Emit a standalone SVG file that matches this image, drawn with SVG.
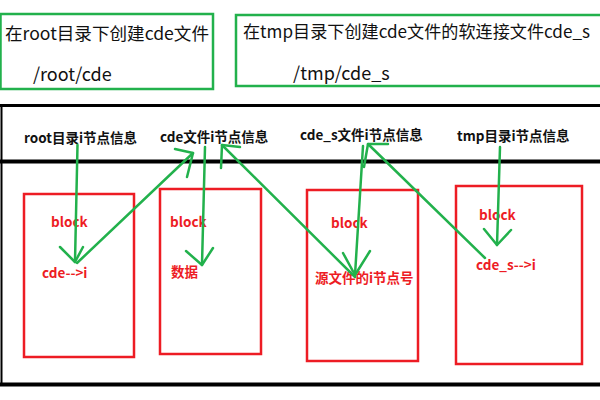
<svg xmlns="http://www.w3.org/2000/svg" width="600" height="400" viewBox="0 0 600 400">
<style>
  .gbox { fill: none; stroke: #22b14c; stroke-width: 2.5; }
  .rbox { fill: none; stroke: #ed1c24; stroke-width: 2.5; }
  .frame { stroke: #000; fill: none; }
  .top { font-family: "Noto Sans CJK SC", "Liberation Sans", sans-serif; font-size: 17px; fill: #111; }
  .path { font-size: 18px; }
  .hdr { font-family: "Noto Sans CJK SC", "Liberation Sans", sans-serif; font-size: 13.5px; font-weight: bold; fill: #111; }
  .red { font-family: "Noto Sans CJK SC", "Liberation Sans", sans-serif; font-size: 13.5px; font-weight: bold; fill: #ed1c24; }
  .arr { fill: none; stroke: #22b14c; stroke-width: 2.5; stroke-linecap: round; stroke-linejoin: round; }
</style>
<rect width="600" height="400" fill="#fff"/>

<g id="note-root">
  <rect class="gbox" x="0.5" y="14" width="212.5" height="75"/>
  <text class="top" x="5" y="40" textLength="204" lengthAdjust="spacingAndGlyphs">在root目录下创建cde文件</text>
  <text class="top path" x="33" y="81">/root/cde</text>
</g>
<g id="note-tmp">
  <rect class="gbox" x="236" y="15" width="370" height="71"/>
  <text class="top" x="243" y="38" textLength="347" lengthAdjust="spacingAndGlyphs">在tmp目录下创建cde文件的软连接文件cde_s</text>
  <text class="top path" x="293" y="80">/tmp/cde_s</text>
</g>

<g id="frame">
  <line class="frame" x1="0" y1="105.5" x2="600" y2="105.5" stroke-width="3"/>
  <line class="frame" x1="1.5" y1="104" x2="1.5" y2="385" stroke-width="2"/>
  <line class="frame" x1="0" y1="161.5" x2="600" y2="161.5" stroke-width="4"/>
  <line class="frame" x1="0" y1="384.5" x2="600" y2="384.5" stroke-width="4"/>
</g>

<g id="hdr-root"><text class="hdr" x="24" y="143">root目录i节点信息</text></g>
<g id="hdr-cde"><text class="hdr" x="160" y="142">cde文件i节点信息</text></g>
<g id="hdr-cde_s"><text class="hdr" x="300" y="140">cde_s文件i节点信息</text></g>
<g id="hdr-tmp"><text class="hdr" x="457" y="141">tmp目录i节点信息</text></g>

<g id="block-root">
  <rect class="rbox" x="24" y="194" width="110" height="163"/>
  <text class="red" x="51" y="227">block</text>
  <text class="red" x="42" y="278">cde--&gt;i</text>
</g>
<g id="block-cde">
  <rect class="rbox" x="160" y="189" width="101" height="165"/>
  <text class="red" x="170" y="227">block</text>
  <text class="red" x="171" y="277">数据</text>
</g>
<g id="block-cde_s">
  <rect class="rbox" x="307" y="190" width="111" height="171"/>
  <text class="red" x="331" y="228">block</text>
  <text class="red" x="315" y="283">源文件的i节点号</text>
</g>
<g id="block-tmp">
  <rect class="rbox" x="456" y="186" width="126" height="178"/>
  <text class="red" x="479" y="220">block</text>
  <text class="red" x="476" y="270">cde_s--&gt;i</text>
</g>

<g id="connectors">
  <path class="arr" d="M77.5 145 L75 262"/>
  <path class="arr" d="M60 247 L75 262 L83 247"/>
  <path class="arr" d="M77 263 L193 153"/>
  <path class="arr" d="M175 149 L193 153 L187 177"/>
  <path class="arr" d="M205 147 L202 265"/>
  <path class="arr" d="M186 251 L202 265 L213 248"/>
  <path class="arr" d="M355 277 L222 145"/>
  <path class="arr" d="M240 147 L222 145 L221 168"/>
  <path class="arr" d="M363 146 L355 275"/>
  <path class="arr" d="M343 253 L355 275 L370 251"/>
  <path class="arr" d="M485 258 L368 144"/>
  <path class="arr" d="M388 144 L368 144 L364 167"/>
  <path class="arr" d="M500 147 L497 245"/>
  <path class="arr" d="M484 229 L497 245 L511 230"/>
</g>
</svg>
